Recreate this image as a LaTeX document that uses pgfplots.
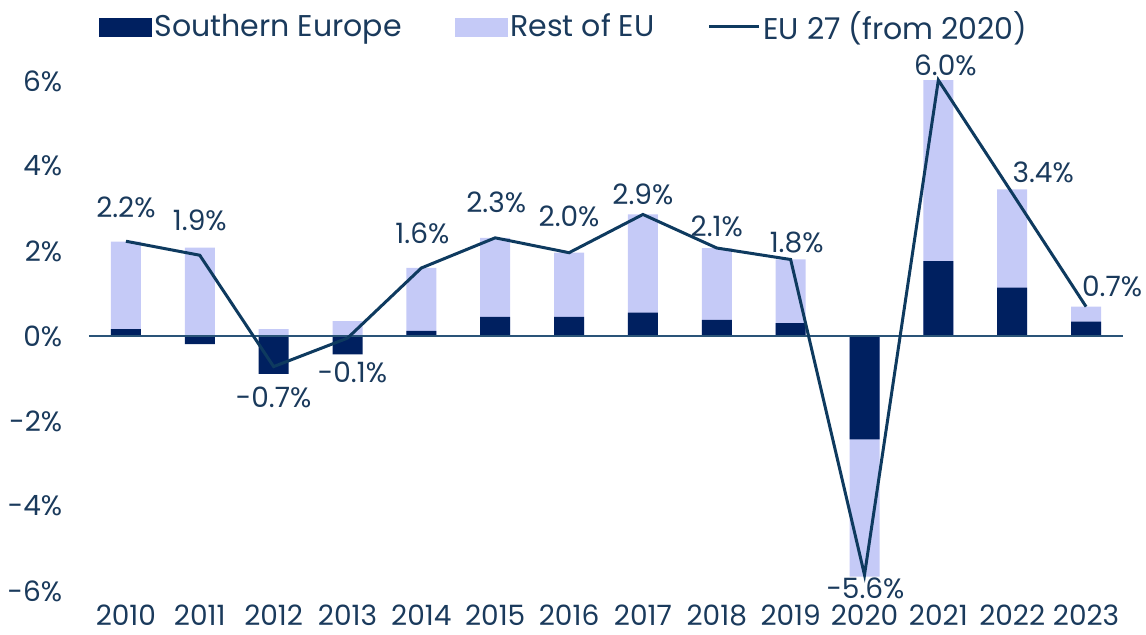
\documentclass[border=0pt]{standalone}
\usepackage{fontspec}
\setmainfont{Poppins}
\usepackage{pgfplots}
\pgfplotsset{compat=1.18}
\definecolor{seu}{HTML}{002060}
\definecolor{reu}{HTML}{C5CAF7}
\definecolor{eul}{HTML}{0E3A5F}
\definecolor{txt}{HTML}{1A3A5C}
\definecolor{zl}{HTML}{2A5478}
\newcommand{\lf}{\fontsize{14}{16}\selectfont}
\newcommand{\lgf}{\fontsize{15}{17}\selectfont}
\begin{document}
\begin{tikzpicture}
\useasboundingbox (-44.5pt,-22pt) rectangle (528.5pt,295.5pt);
\begin{axis}[
  at={(0,0)}, anchor=south west, scale only axis,
  width=517pt, height=255pt,
  xmin=-0.5, xmax=13.5, ymin=-6, ymax=6,
  clip=false,
  axis line style={draw=none}, major tick length=0pt,
  xtick={0,1,2,3,4,5,6,7,8,9,10,11,12,13},
  xticklabels={2010,2011,2012,2013,2014,2015,2016,2017,2018,2019,2020,2021,2022,2023},
  ytick={-6,-4,-2,0,2,4,6},
  yticklabels={-6\%,-4\%,-2\%,0\%,2\%,4\%,6\%},
  tick label style={font=\lf, text=txt},
  xticklabel style={yshift=-3.6pt},
  yticklabel style={xshift=-9.9pt},
  legend style={draw=none, fill=none, at={(0.46,1.106)}, anchor=center,
    legend columns=3, font=\lgf, text=txt,
    /tikz/every even column/.append style={column sep=25pt},
    nodes={inner sep=1.5pt}},
  legend cell align=left,
]
% Rest of EU (bar end)
\addplot[ybar, bar width=15pt, bar shift=0pt, fill=reu, draw=none, forget plot] coordinates {
(0,2.22) (1,2.08) (2,0.16) (3,0.35) (4,1.60) (5,2.31) (6,1.96) (7,2.86) (8,2.07) (9,1.80) (10,-5.66) (11,6.02) (12,3.45) (13,0.69)};
% Southern Europe
\addplot[ybar, bar width=15pt, bar shift=0pt, fill=seu, draw=none, forget plot] coordinates {
(0,0.16) (1,-0.19) (2,-0.89) (3,-0.43) (4,0.12) (5,0.45) (6,0.45) (7,0.55) (8,0.38) (9,0.30) (10,-2.43) (11,1.76) (12,1.14) (13,0.34)};
\draw[zl, line width=0.75pt] (axis cs:-0.5,0) -- (axis cs:13.5,0);
% EU 27
\addplot[eul, line width=1.5pt, mark=none, forget plot,
  point meta=explicit symbolic,
  nodes near coords,
  visualization depends on={\thisrow{dx} \as \dx},
  visualization depends on={\thisrow{dy} \as \dy},
  every node near coord/.append style={anchor=center, xshift=\dx pt, yshift=\dy pt, font=\lf, text=txt, inner sep=0pt},
] table[x=x, y=y, meta=lab] {
x y dx dy lab
0 2.23 0 16.75 2.2\%
1 1.90 0 17.5 1.9\%
2 -0.72 0 -15.5 -0.7\%
3 -0.05 2.5 -17 -0.1\%
4 1.60 0.5 17.5 1.6\%
5 2.31 0.5 17.5 2.3\%
6 1.96 0 18 2.0\%
7 2.86 0 10.25 2.9\%
8 2.07 0 10.75 2.1\%
9 1.80 3 8.25 1.8\%
10 -5.62 0.5 -6.5 -5.6\%
11 6.02 3.5 7.5 6.0\%
12 3.36 15.5 10.25 3.4\%
13 0.69 13 10 0.7\%
};
\addlegendimage{legend image code/.code={\fill[seu] (0pt,-4.5pt) rectangle (26pt,4.5pt);}}
\addlegendentry{Southern Europe}
\addlegendimage{legend image code/.code={\fill[reu] (0pt,-4.5pt) rectangle (26pt,4.5pt);}}
\addlegendentry{Rest of EU}
\addlegendimage{legend image code/.code={\draw[eul, line width=1.5pt] (0pt,0pt) -- (25pt,0pt);}}
\addlegendentry{EU 27 (from 2020)}
\end{axis}
\end{tikzpicture}
\end{document}
